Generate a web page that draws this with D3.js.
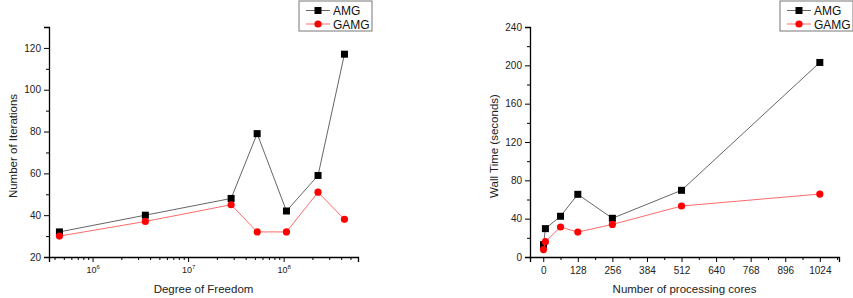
<!DOCTYPE html>
<html>
<head>
<meta charset="utf-8">
<script src="https://cdn.jsdelivr.net/npm/d3@7"></script>
<style>
  body { margin: 0; background: #fff; }
  svg { display: block; font-family: Arial, "Liberation Sans", sans-serif; }
  .tick text { font-size: 10px; fill: #222; }
  .axis-label { font-size: 11.5px; fill: #222; }
  .legend text { font-size: 12px; fill: #111; }
</style>
</head>
<body>
<svg width="853" height="298"></svg>
<script>
// left panel: iterations vs degree of freedom
const dof = [4.5e5, 3.57e6, 2.82e7, 5.28e7, 1.07e8, 2.29e8, 4.33e8];
const amgIter = [32, 40, 48, 79, 42, 59, 117];
const gamgIter = [30, 37, 45, 32, 32, 51, 38];
const dofTicks = [1e6, 1e7, 1e8];
const iterTicks = [20, 40, 60, 80, 100, 120];

// right panel: wall time vs cores
const cores = [1, 8, 64, 128, 256, 512, 1024];
const amgTime = [12.9, 29.6, 42.5, 65.4, 40.4, 69.6, 203];
const gamgTime = [7.7, 16, 31.3, 26, 34, 53.2, 65.7];
const coreTicks = [0, 128, 256, 384, 512, 640, 768, 896, 1024];
const timeTicks = [0, 40, 80, 120, 160, 200, 240];

const seriesNames = ['AMG', 'GAMG'];
const colors = { AMG: '#000', GAMG: '#f00' };
const lineColors = { AMG: '#555', GAMG: '#ff5a5a' };

const svg = d3.select('svg');

const drawPanel = (opt) => {
    const { left, right, top, bottom } = opt;
    const g = svg.append('g');

    const x = opt.xScale.range([left, right]);
    const y = d3.scaleLinear().domain(opt.yDomain).range([bottom, top]);

    // minor ticks
    g.append('g')
        .attr('transform', `translate(0,${bottom})`)
        .call(d3.axisBottom(x).tickValues(opt.xMinor).tickSize(3).tickFormat(''))
        .call(a => a.select('.domain').remove())
        .selectAll('line').attr('stroke', '#000');
    g.append('g')
        .attr('transform', `translate(${left},0)`)
        .call(d3.axisLeft(y).tickValues(opt.yMinor).tickSize(3).tickFormat(''))
        .call(a => a.select('.domain').remove())
        .selectAll('line').attr('stroke', '#000');

    // major axes
    const xAxis = g.append('g')
        .attr('transform', `translate(0,${bottom})`)
        .call(d3.axisBottom(x).tickValues(opt.xTicks).tickSizeOuter(0).tickSize(5)
            .tickFormat(opt.logX ? '' : d3.format('d')));
    xAxis.select('.domain').attr('stroke-width', 1.3);
    xAxis.selectAll('.tick text').attr('dy', '0.9em');

    if (opt.logX) {
        xAxis.selectAll('.tick').each(function(d) {
            const t = d3.select(this).append('text')
                .attr('y', 16)
                .attr('fill', '#222')
                .style('font-size', '9px')
                .attr('text-anchor', 'middle');
            t.append('tspan').text('10');
            t.append('tspan').attr('dy', -4).style('font-size', '6px')
                .text(Math.round(Math.log10(d)));
        });
    }

    const yAxis = g.append('g')
        .attr('transform', `translate(${left},0)`)
        .call(d3.axisLeft(y).tickValues(opt.yTicks).tickSizeOuter(0).tickSize(5));
    yAxis.select('.domain').attr('stroke-width', 1.3);

    g.append('text')
        .attr('class', 'axis-label')
        .attr('transform', `translate(${opt.yLabelX},${(top + bottom) / 2 + 4}) rotate(-90)`)
        .attr('text-anchor', 'middle')
        .text(opt.yLabel);

    g.append('text')
        .attr('class', 'axis-label')
        .attr('x', (left + right) / 2)
        .attr('y', 293)
        .attr('text-anchor', 'middle')
        .text(opt.xLabel);

    const line = d3.line().x(d => x(d[0])).y(d => y(d[1]));

    opt.series.forEach(s => {
        const pts = opt.xs.map((v, i) => [v, s.values[i]]);
        g.append('path')
            .datum(pts)
            .attr('fill', 'none')
            .attr('stroke', lineColors[s.name])
            .attr('stroke-width', 0.9)
            .attr('d', line);
        if (s.name === 'AMG') {
            g.selectAll(null).data(pts).enter().append('rect')
                .attr('x', d => x(d[0]) - 3.5)
                .attr('y', d => y(d[1]) - 3.5)
                .attr('width', 7).attr('height', 7)
                .attr('fill', colors.AMG);
        } else {
            g.selectAll(null).data(pts).enter().append('circle')
                .attr('cx', d => x(d[0]))
                .attr('cy', d => y(d[1]))
                .attr('r', 3.6)
                .attr('fill', colors.GAMG);
        }
    });

    // legend
    const lg = svg.append('g').attr('class', 'legend')
        .attr('transform', `translate(${opt.legendX},1)`);
    lg.append('rect')
        .attr('x', 0).attr('y', 0).attr('width', 73).attr('height', 30)
        .attr('fill', '#fff').attr('stroke', '#777').attr('stroke-width', 1);
    seriesNames.forEach((name, i) => {
        const yy = 9.5 + i * 13.5;
        lg.append('line')
            .attr('x1', 7).attr('x2', 31).attr('y1', yy).attr('y2', yy)
            .attr('stroke', lineColors[name]).attr('stroke-width', 0.9);
        if (name === 'AMG') {
            lg.append('rect').attr('x', 19 - 3.5).attr('y', yy - 3.5)
                .attr('width', 7).attr('height', 7).attr('fill', colors.AMG);
        } else {
            lg.append('circle').attr('cx', 19).attr('cy', yy).attr('r', 3.6)
                .attr('fill', colors.GAMG);
        }
        lg.append('text').attr('x', 34).attr('y', yy + 4.5).text(name);
    });
};

// minor ticks for log axis: 2..9 x 10^k within the domain
const logMinor = [];
[5, 6, 7, 8].forEach(k => {
    for (let m = 2; m <= 9; m++) {
        const v = m * Math.pow(10, k);
        if (v >= 3.5e5 && v <= 6e8) logMinor.push(v);
    }
});

drawPanel({
    left: 49, right: 358, top: 27, bottom: 257,
    xScale: d3.scaleLog().domain([3.5e5, 6e8]),
    logX: true,
    xTicks: dofTicks,
    xMinor: logMinor,
    yDomain: [20, 130],
    yTicks: iterTicks,
    yMinor: d3.range(30, 130, 20),
    xs: dof,
    series: [{ name: 'AMG', values: amgIter }, { name: 'GAMG', values: gamgIter }],
    xLabel: 'Degree of Freedom',
    yLabel: 'Number of Iterations',
    yLabelX: 17,
    legendX: 299
});

drawPanel({
    left: 530, right: 839, top: 27, bottom: 257,
    xScale: d3.scaleLinear().domain([-49, 1095]),
    logX: false,
    xTicks: coreTicks,
    xMinor: d3.range(64, 1090, 128),
    yDomain: [0, 240],
    yTicks: timeTicks,
    yMinor: d3.range(20, 240, 40),
    xs: cores,
    series: [{ name: 'AMG', values: amgTime }, { name: 'GAMG', values: gamgTime }],
    xLabel: 'Number of processing cores',
    yLabel: 'Wall Time (seconds)',
    yLabelX: 498,
    legendX: 780
});
</script>
</body>
</html>
